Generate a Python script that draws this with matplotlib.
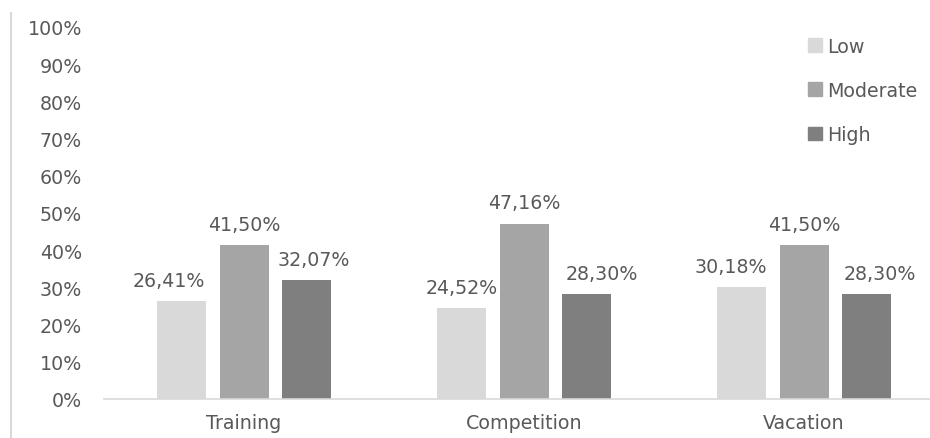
import matplotlib.pyplot as plt
import numpy as np
from matplotlib.patches import Patch
from matplotlib.lines import Line2D

categories = ['Training', 'Competition', 'Vacation']
series     = ['Low', 'Moderate', 'High']
low        = [26.41, 24.52, 30.18]
moderate   = [41.50, 47.16, 41.50]
high       = [32.07, 28.30, 28.30]
colors     = ['#d9d9d9', '#a5a5a5', '#7f7f7f']
text_color = '#595959'

# the data labels were nudged sideways by hand in the original (pixels, per series)
label_nudge = [[-13, 0, -11], [0, 0, 0], [7, 15, 13]]

plt.rcParams['font.family'] = ['DejaVu Sans']
fs = 13.7

W, H = 930, 439
fig = plt.figure(figsize=(W / 100, H / 100), dpi=100)
# plot area runs a little past the right edge, as in the cropped original
ax  = fig.add_axes([104 / W, 39 / H, 840 / W, 372 / H])

x     = np.arange(len(categories))
width = 0.175
pitch = 0.223

for i, (name, values) in enumerate(zip(series, [low, moderate, high])):
    pos  = x + (i - 1) * pitch
    bars = ax.bar(pos, values, width, color=colors[i], label=name)
    for b, v, dx in zip(bars, values, label_nudge[i]):
        ax.annotate(f'{v:.2f}%'.replace('.', ','),
                    (b.get_x() + b.get_width() / 2, v),
                    xytext=(dx * 0.72, 8), textcoords='offset points',
                    ha='center', va='bottom', fontsize=fs, color=text_color)

ax.set_xlim(-0.5, 2.5)
ax.set_ylim(0, 100)
ax.set_yticks(np.arange(0, 101, 10))
ax.set_yticklabels([f'{t}%' for t in range(0, 101, 10)])
ax.set_xticks(x)
ax.set_xticklabels(categories)
ax.tick_params(axis='y', length=0, pad=16, labelsize=fs, labelcolor=text_color)
ax.tick_params(axis='x', length=0, pad=10, labelsize=fs, labelcolor=text_color)

for side in ['top', 'right', 'left']:
    ax.spines[side].set_visible(False)
ax.spines['bottom'].set_color('#d9d9d9')
ax.spines['bottom'].set_linewidth(1.2)

handles = [Patch(color=c) for c in colors]
leg = fig.legend(handles, series, loc='upper left', bbox_to_anchor=(800 / W, 1 - 30 / H),
                 frameon=False, fontsize=fs, handlelength=0.75, handleheight=0.7,
                 handletextpad=0.3, labelspacing=1.32, borderaxespad=0)
for t in leg.get_texts():
    t.set_color(text_color)

fig.add_artist(Line2D([11 / W, 11 / W], [0, 1 - 14 / H], color='#d9d9d9', linewidth=1.5))

fig.savefig('out.png', dpi=100)
